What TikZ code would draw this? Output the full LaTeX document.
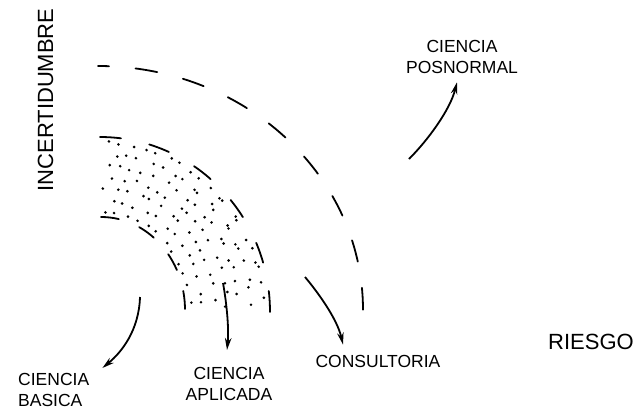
\documentclass[tikz,border=0pt]{standalone}
\usepackage{fontspec}
\setmainfont{Liberation Sans}
\usetikzlibrary{arrows.meta,calc}

\begin{document}
\begin{tikzpicture}[x=1pt,y=1pt,
  lab/.style={inner sep=0pt,font=\fontsize{17.5}{21}\selectfont},
  axislab/.style={inner sep=0pt,font=\fontsize{22}{26}\selectfont},
  arcdash/.style={line width=1.8pt,line cap=round},
  flecha/.style={line width=1.8pt,-{Stealth[length=12pt,width=6.5pt]}}]
  \useasboundingbox (0,0) rectangle (641,-410);
  % ejes
  \node[axislab,rotate=90,anchor=base] (incert) at (53,-100) {INCERTIDUMBRE};
  \node[axislab,anchor=base] (riesgo) at (591,-349) {RIESGO};
  % etiquetas
  \node[lab,align=left,anchor=north west] (basica) at (18,-373) {CIENCIA\\BASICA};
  \node[lab,align=center,anchor=north] (aplicada) at (229,-367) {CIENCIA\\APLICADA};
  \node[lab,anchor=base] (consultoria) at (378,-367) {CONSULTORIA};
  \node[lab,align=center,anchor=north] (posnormal) at (462,-40) {CIENCIA\\POSNORMAL};
  % arcos discontinuos
  \draw[arcdash,dash pattern=on 22pt off 26.6pt,dash phase=11pt] (98,-66) arc[start angle=90,end angle=0,x radius=265,y radius=244];
  \draw[arcdash,dash pattern=on 21pt off 29pt] (100,-137) arc[start angle=90,end angle=0,x radius=170,y radius=175];
  \draw[arcdash,dash pattern=on 18pt off 22pt] (101,-217) arc[start angle=90,end angle=0,x radius=84,y radius=93];
  % zona punteada
  \pgfmathsetseed{3}
  \foreach \s/\n [count=\i] in {0.08/11,0.22/12,0.36/14,0.5/15,0.64/16,0.78/18,0.92/19}{
    \foreach \k in {0,...,\n}{
      \pgfmathsetmacro\t{3+84*(\k+0.5*mod(\i,2))/(\n+0.5)+2*rand}
      \pgfmathsetmacro\rx{84+86*\s+2*rand}
      \pgfmathsetmacro\ry{93+82*\s+2*rand}
      \fill ({100+\rx*cos(\t)},{-311+\ry*sin(\t)}) circle (1.45pt);
    }
  }
  % flechas
  \coordinate (desdeB) at (140,-297);
  \coordinate (hastaB) at ([xshift=13pt,yshift=5pt]basica.north east);
  \coordinate (desdeA) at (223,-283);
  \coordinate (hastaA) at ([xshift=-2pt,yshift=17pt]aplicada.north);
  \coordinate (desdeC) at (305,-277);
  \coordinate (hastaC) at ([xshift=-35pt,yshift=10pt]consultoria.north);
  \coordinate (desdeP) at (409,-159);
  \coordinate (hastaP) at ([xshift=-5pt,yshift=-8.5pt]posnormal.south);
  \draw[flecha] (desdeB) .. controls (139,-330) and (122,-352) .. (hastaB);
  \draw[flecha] (desdeA) .. controls (227,-305) and (229,-330) .. (hastaA);
  \draw[flecha] (desdeC) .. controls (316,-290) and (337,-318) .. (hastaC);
  \draw[flecha] (desdeP) .. controls (428,-140) and (450,-110) .. (hastaP);
\end{tikzpicture}
\end{document}
